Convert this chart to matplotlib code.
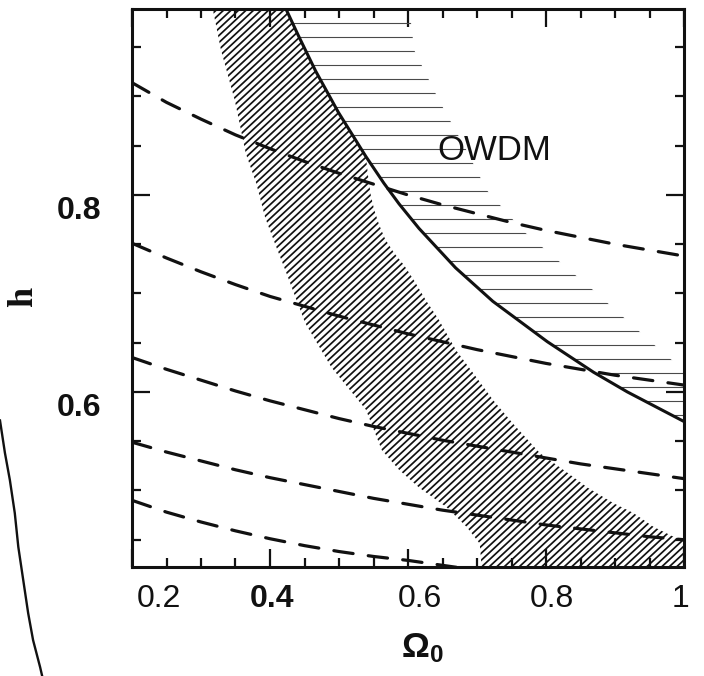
import numpy as np
import matplotlib
matplotlib.use("Agg")
import matplotlib.pyplot as plt
from matplotlib.patches import Polygon
from matplotlib.collections import LineCollection
from matplotlib.lines import Line2D
from matplotlib.transforms import ScaledTranslation

# ---------------- data ----------------
omega_grid = [0.20, 0.25, 0.30, 0.35, 0.40, 0.45, 0.50, 0.55, 0.60,
              0.65, 0.70, 0.75, 0.80, 0.85, 0.90, 0.95, 1.00]
h_dash1 = [0.914, 0.894, 0.877, 0.861, 0.847, 0.834, 0.822, 0.811, 0.800,
           0.790, 0.781, 0.772, 0.764, 0.757, 0.750, 0.744, 0.738]
h_dash2 = [0.751, 0.736, 0.722, 0.709, 0.697, 0.687, 0.677, 0.668, 0.659,
           0.651, 0.643, 0.636, 0.629, 0.623, 0.617, 0.612, 0.607]
h_dash3 = [0.635, 0.623, 0.612, 0.601, 0.591, 0.582, 0.573, 0.565, 0.558,
           0.551, 0.545, 0.539, 0.533, 0.527, 0.522, 0.517, 0.512]
h_dash4 = [0.549, 0.539, 0.530, 0.521, 0.513, 0.506, 0.499, 0.492, 0.486,
           0.480, 0.475, 0.470, 0.465, 0.461, 0.457, 0.453, 0.450]
omega_dash5 = [0.20, 0.25, 0.30, 0.35, 0.40, 0.45, 0.50, 0.55, 0.60, 0.65, 0.70]
h_dash5 = [0.490, 0.478, 0.468, 0.459, 0.451, 0.444, 0.438, 0.433, 0.429, 0.424, 0.419]

# solid OWDM boundary
omega_owdm = [0.423, 0.441, 0.466, 0.499, 0.539, 0.565, 0.587, 0.616, 0.669,
              0.723, 0.802, 0.869, 0.918, 1.000]
h_owdm = [0.989, 0.962, 0.926, 0.884, 0.839, 0.812, 0.791, 0.766, 0.726,
          0.692, 0.651, 0.620, 0.600, 0.570]

# right edge of the horizontally hatched OWDM region (top -> bottom)
owdm_edge_omega = [0.602, 0.609, 0.645, 0.685, 0.714, 0.766, 0.869, 0.971, 1.000]
owdm_edge_h = [0.989, 0.947, 0.896, 0.845, 0.805, 0.764, 0.703, 0.639, 0.622]

# diagonally hatched band: left edge (top -> bottom)
band_left_omega = [0.317, 0.329, 0.349, 0.365, 0.380, 0.393, 0.407, 0.422, 0.437,
                   0.451, 0.489, 0.539, 0.562, 0.587, 0.616, 0.656, 0.685, 0.704, 0.707]
band_left_h = [0.989, 0.947, 0.896, 0.842, 0.812, 0.777, 0.751, 0.724, 0.696,
               0.670, 0.625, 0.582, 0.541, 0.521, 0.503, 0.483, 0.463, 0.446, 0.420]
# band right edge (bottom -> top); above it the band follows the solid curve
band_right_omega = [1.000, 1.000, 0.985, 0.956, 0.927, 0.898, 0.860, 0.831, 0.791,
                    0.752, 0.723, 0.699, 0.670, 0.645, 0.626, 0.609, 0.594, 0.580,
                    0.567, 0.558, 0.551, 0.546, 0.542]
band_right_h = [0.420, 0.450, 0.453, 0.463, 0.477, 0.487, 0.503, 0.518, 0.538,
                0.568, 0.592, 0.615, 0.642, 0.673, 0.693, 0.713, 0.729, 0.741,
                0.755, 0.770, 0.785, 0.800, 0.820]

x_major = [0.2, 0.4, 0.6, 0.8, 1.0]
x_labels = ["0.2", "0.4", "0.6", "0.8", "1"]
x_minor = [0.25, 0.3, 0.35, 0.45, 0.5, 0.55, 0.65, 0.7, 0.75, 0.85, 0.9, 0.95]
y_major = [0.6, 0.8]
y_labels = ["0.6", "0.8"]
y_minor = [0.45, 0.5, 0.55, 0.65, 0.7, 0.75, 0.85, 0.9, 0.95]

# fragment of the neighbouring panel's curve (figure fractions)
side_x = [0.000, 0.007, 0.014, 0.021, 0.026, 0.033, 0.040, 0.047, 0.057, 0.061]
side_y = [0.378, 0.330, 0.290, 0.241, 0.191, 0.142, 0.093, 0.053, 0.013, -0.005]

# ---------------- style ----------------
plt.rcParams['font.family'] = ['Liberation Sans', 'DejaVu Sans']
plt.rcParams['mathtext.fontset'] = 'custom'
plt.rcParams['mathtext.rm'] = 'Liberation Sans'
plt.rcParams['mathtext.bf'] = 'Liberation Sans:bold'
plt.rcParams['mathtext.it'] = 'Liberation Sans:italic'
plt.rcParams['lines.scale_dashes'] = False
INK = '#111111'

W, H = 704, 676
fig = plt.figure(figsize=(W / 100, H / 100), dpi=100)
ax_l, ax_r, ax_t, ax_b = 132, 684, 9, 567
ax = fig.add_axes([ax_l / W, (H - ax_b) / H, (ax_r - ax_l) / W, (ax_b - ax_t) / H])
ax.set_xlim(0.2, 1.0)
ax.set_ylim(0.4223, 0.9888)
aw, ah = ax_r - ax_l, ax_b - ax_t

# --- diagonal hatched band ---
curve_top = [(o, h) for o, h in zip(omega_owdm, h_owdm) if h > band_right_h[-1] + 0.01]
band_pts = (list(zip(band_left_omega, band_left_h))
            + list(zip(band_right_omega, band_right_h))
            + curve_top[::-1])
band_poly = Polygon(band_pts, closed=True, facecolor='none', edgecolor='none')
ax.add_patch(band_poly)
slope = np.tan(np.radians(43)) * aw / ah
step = 7.5 / aw
u0s = np.arange(-1.5, 1.5, step)
segs = [[(u0, 0.0), (u0 + 1.2 / slope, 1.2)] for u0 in u0s]
diag = LineCollection(segs, colors=INK, linewidths=1.25, transform=ax.transAxes, zorder=2)
ax.add_collection(diag)
diag.set_clip_path(band_poly)

# --- horizontal hatched OWDM region ---
owdm_pts = list(zip(omega_owdm, h_owdm)) + list(zip(owdm_edge_omega, owdm_edge_h))[::-1]
owdm_poly = Polygon(owdm_pts, closed=True, facecolor='none', edgecolor='none')
ax.add_patch(owdm_poly)
hstep = 14.0 / ah
vs = np.arange((ax_b - 23) / ah, 0, -hstep)
hsegs = [[(0, v), (1, v)] for v in vs]
hl = LineCollection(hsegs, colors='#4a4a4a', linewidths=0.8, transform=ax.transAxes, zorder=2)
ax.add_collection(hl)
hl.set_clip_path(owdm_poly)

# --- dashed curves ---
dash_style = dict(color=INK, lw=2.3, dashes=(14, 11), zorder=3, dash_capstyle='round')
for hv in (h_dash1, h_dash2, h_dash3, h_dash4):
    ax.plot(omega_grid, hv, **dash_style)
ax.plot(omega_dash5, h_dash5, **dash_style)

# --- solid OWDM boundary ---
ax.plot(omega_owdm, h_owdm, color=INK, lw=2.2, zorder=4)

ax.text(0.7255, 0.8454, "OWDM", fontsize=25, color=INK, ha='center', va='center', zorder=5)

# --- axes styling ---
for s in ax.spines.values():
    s.set_linewidth(2.2)
    s.set_color(INK)
ax.set_xticks(x_major, x_labels)
ax.set_xticks(x_minor, minor=True)
ax.set_yticks(y_major, y_labels)
ax.set_yticks(y_minor, minor=True)
ax.tick_params(which='both', direction='in', top=True, right=True, width=1.6, color=INK,
               labelcolor=INK)
ax.tick_params(which='major', length=13)
ax.tick_params(which='minor', length=6.5)
ax.tick_params(axis='x', labelsize=23, pad=12)
ax.tick_params(axis='y', labelsize=23, pad=22)

# small hand-placement offsets of the printed labels (pixels)
x_label_shift = {"0.2": 27, "0.4": 2, "0.6": 12, "0.8": 6, "1": -4}
for t in ax.get_xticklabels():
    dx = x_label_shift.get(t.get_text(), 0)
    t.set_transform(t.get_transform() + ScaledTranslation(dx / 100, 0, fig.dpi_scale_trans))
    if t.get_text() == "0.4":
        t.set_fontweight('bold')
for t in ax.get_yticklabels():
    t.set_fontweight('bold')
    t.set_transform(t.get_transform() + ScaledTranslation(0, -13 / 100, fig.dpi_scale_trans))

ax.set_xlabel(r'$\mathbf{\Omega_0}$', fontsize=25, color=INK)
ax.xaxis.set_label_coords((422 - ax_l) / aw, (ax_b - 648) / ah)
ax.set_ylabel('h', fontsize=26, fontweight='bold', color=INK,
              family=['Liberation Serif', 'DejaVu Serif'])
ax.yaxis.set_label_coords((24 - ax_l) / aw, (ax_b - 297) / ah)
ax.xaxis.label.set_va('center')
ax.yaxis.label.set_va('center')

fig.add_artist(Line2D(side_x, side_y, color=INK, lw=1.7, transform=fig.transFigure))

fig.savefig("out.png", dpi=100, facecolor='white')
